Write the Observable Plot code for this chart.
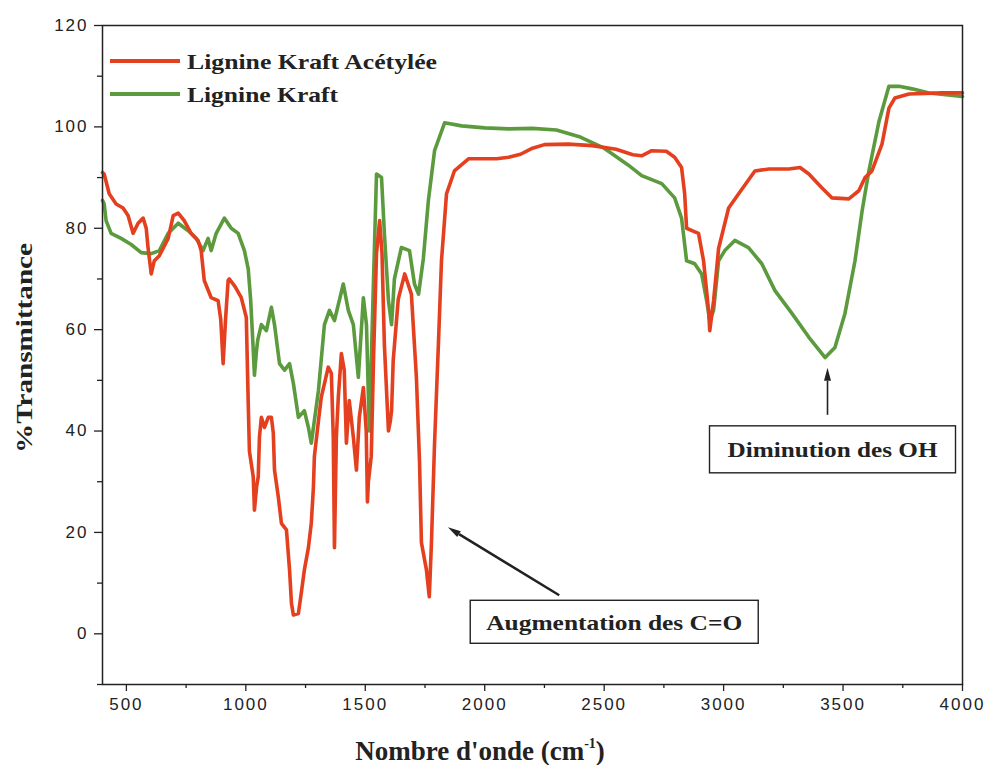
<!DOCTYPE html>
<html>
<head>
<meta charset="utf-8">
<script src="https://cdn.jsdelivr.net/npm/d3@7"></script>
<script src="https://cdn.jsdelivr.net/npm/@observablehq/plot@0.6"></script>
<style>
  html, body { margin: 0; padding: 0; background: #fff; }
  #chart svg text { letter-spacing: 2px; }
</style>
</head>
<body>
<div id="chart"></div>
<script>
// ---- Data: Lignine Kraft Acétylée (red) ----
const acetWavenumber = [400,407,428,457,486,507,528,549,570,583,591,604,617,638,675,696,717,742,771,800,813,826,855,884,895,905,915,926,931,955,981,1002,1010,1015,1031,1036,1045,1052,1057,1065,1078,1094,1107,1115,1120,1136,1149,1170,1183,1191,1199,1220,1232,1245,1262,1274,1283,1287,1304,1316,1345,1358,1366,1371,1379,1387,1400,1412,1421,1433,1450,1463,1475,1492,1504,1509,1513,1525,1535,1547,1560,1570,1580,1597,1605,1610,1617,1638,1665,1693,1714,1727,1735,1756,1768,1777,1790,1806,1819,1840,1873,1932,1987,2050,2100,2150,2200,2250,2350,2450,2550,2620,2657,2699,2760,2795,2824,2837,2845,2870,2895,2916,2937,2942,2958,2979,3021,3063,3131,3190,3273,3320,3357,3411,3453,3524,3566,3592,3621,3663,3692,3717,3776,3914,4000];
const acetTransmittance = [91,90.7,86.8,84.8,84,82.5,79,81,82,80,76,71,73.6,74.6,78,82.5,83,81.5,79,77.6,75.6,69.7,66.3,65.7,62,53.3,62,69.7,70,68.5,66.3,62.4,45.5,36,31,24.4,29,31,38.8,42.7,40.7,42.7,42.7,39.6,32.3,27,21.8,20.5,12.6,6,3.7,4,8,12.6,17,21.8,29,35,42,46.7,52.6,51.4,38.8,17,38.8,46.6,55.3,52,37.6,46,38.8,32.3,42.7,48.6,40,26,30,35,55,75,81.5,75,57,40,42,44,54,66,71,67,50.6,34,18,12.6,7.3,18,37.6,57,73.6,86.8,91.3,93.7,93.7,93.7,94,94.6,95.8,96.5,96.6,96.3,95.6,94.5,94.3,95.3,95.2,94,92,86.8,80,79.5,79,73.6,63.8,59.8,65.7,76,84,86.8,91.3,91.7,91.7,92,90.7,88,86,85.8,87.4,90,91.3,96.6,103.7,105.7,106.5,106.7,106.7];

// ---- Data: Lignine Kraft (green) ----
const kraftWavenumber = [400,407,415,436,478,520,562,604,638,675,717,759,792,821,842,855,876,910,939,968,994,1010,1020,1030,1036,1045,1050,1065,1086,1107,1120,1141,1162,1183,1199,1220,1245,1262,1274,1304,1329,1350,1371,1408,1429,1450,1471,1492,1505,1517,1534,1547,1568,1580,1597,1610,1622,1651,1685,1706,1723,1743,1764,1790,1832,1903,2000,2100,2200,2300,2400,2500,2600,2657,2741,2795,2824,2845,2879,2908,2929,2942,2958,2979,3005,3047,3104,3160,3215,3286,3357,3425,3466,3508,3550,3580,3608,3650,3692,3734,3789,3860,4000];
const kraftTransmittance = [85.5,84.8,81.5,79,78,76.8,75.2,75,75.6,79,81,79.5,78,75.6,78,75.6,79,82,80,79,75.6,72,66,57,51,56,58,61,59.8,64.4,61,53.3,52,53.3,49.4,42.7,44,40.7,37.6,48,61,63.8,61.8,69,63.8,61,50.6,66.3,61,40,69,90.7,90,79,65.7,61,70,76.2,75.6,69,67,74,85.4,95.3,100.8,100.2,99.8,99.6,99.7,99.4,98,95.8,92.5,90.4,88.8,86,82,73.6,73,71,65.7,61.8,63.8,73.6,75.6,77.6,76.2,73,67.7,63.2,58.5,54.5,56.5,63.2,73.6,83.5,91.3,101,108,108,107.5,106.7,106];

// ---- Series & axis labels ----
const seriesNames = ["Lignine Kraft Acétylée", "Lignine Kraft"];
const seriesColors = ["#e4401f", "#5c9a3e"];
const xTicks = [500,1000,1500,2000,2500,3000,3500,4000];
const xMinorTicks = [750,1250,1750,2250,2750,3250,3750];
const yTicks = [0,20,40,60,80,100,120];
const yMinorTicks = [-10,10,30,50,70,90,110];
const xTitle = "Nombre d'onde (cm";
const xTitleSup = "-1";
const yTitle = "%Transmittance";
const annotations = [
  {label: "Augmentation des C=O", headX: 1848, headY: 20.9, tailX: 2314, tailY: 7.5},
  {label: "Diminution des OH", headX: 3437, headY: 52.4, tailX: 3437, tailY: 43.1}
];

const acet = acetWavenumber.map((w, i) => ({w, t: acetTransmittance[i]}));
const kraft = kraftWavenumber.map((w, i) => ({w, t: kraftTransmittance[i]}));

const svg = Plot.plot({
  width: 985,
  height: 765,
  marginLeft: 102,
  marginRight: 23,
  marginTop: 25,
  marginBottom: 81,
  style: {fontFamily: "'Liberation Sans', Arial, sans-serif", fontSize: "17px", color: "#222", background: "#fff"},
  x: {domain: [400, 4000]},
  y: {domain: [-10, 120]},
  marks: [
    Plot.axisX({ticks: xTicks, tickSize: 7, tickPadding: 6, label: null, stroke: "#222", strokeWidth: 1.3, tickFormat: d => String(d)}),
    Plot.axisX({ticks: xMinorTicks, tickSize: 4, text: null, label: null, stroke: "#222", strokeWidth: 1.3}),
    Plot.axisY({ticks: yTicks, tickSize: 8, tickPadding: 6, label: null, stroke: "#222", strokeWidth: 1.3, tickFormat: d => String(d)}),
    Plot.axisY({ticks: yMinorTicks, tickSize: 5, text: null, label: null, stroke: "#222", strokeWidth: 1.3}),
    Plot.line(kraft, {x: "w", y: "t", stroke: seriesColors[1], strokeWidth: 3.6, strokeLinejoin: "round"}),
    Plot.line(acet, {x: "w", y: "t", stroke: seriesColors[0], strokeWidth: 3.6, strokeLinejoin: "round"}),
    Plot.frame({stroke: "#222", strokeWidth: 1.5})
  ]
});

document.getElementById("chart").appendChild(svg);

const xs = svg.scale("x"), ys = svg.scale("y");
const g = d3.select(svg).append("g")
  .attr("font-family", "'Liberation Serif', 'Times New Roman', serif")
  .attr("font-weight", "bold")
  .attr("fill", "#222");

// Legend
seriesNames.forEach((name, i) => {
  const ly = 61 + i * 33;
  g.append("line").attr("x1", 110).attr("x2", 180).attr("y1", ly).attr("y2", ly)
    .attr("stroke", seriesColors[i]).attr("stroke-width", 4);
  g.append("text").attr("x", 187).attr("y", ly + 8).attr("font-size", 21)
    .attr("text-anchor", "start")
    .style("letter-spacing", "0px")
    .attr("textLength", i === 0 ? 250 : 151).attr("lengthAdjust", "spacingAndGlyphs")
    .text(name);
});

// Axis titles
const xt = g.append("text").attr("x", 480).attr("y", 760).attr("text-anchor", "middle")
  .attr("font-size", 27).style("letter-spacing", "0px");
xt.append("tspan").text(xTitle);
xt.append("tspan").attr("dy", -12).attr("font-size", 14).text(xTitleSup);
xt.append("tspan").attr("dy", 12).text(")");

g.append("text").attr("transform", "translate(32,348) rotate(-90)").attr("text-anchor", "middle")
  .attr("font-size", 24).style("letter-spacing", "0px")
  .attr("textLength", 210).attr("lengthAdjust", "spacingAndGlyphs")
  .text(yTitle);

// Annotations
const boxes = [
  {w: 288, h: 43, dx: -89, dy: 5, tl: 256},
  {w: 246, h: 47, dx: -118, dy: 11, tl: 210}
];
annotations.forEach((a, i) => {
  const hx = xs.apply(a.headX), hy = ys.apply(a.headY);
  const tx = xs.apply(a.tailX), ty = ys.apply(a.tailY);
  const ang = Math.atan2(hy - ty, hx - tx);
  const L = 13, W = 3.5;
  const bx = hx - L * Math.cos(ang), by = hy - L * Math.sin(ang);
  g.append("line").attr("x1", tx).attr("y1", ty).attr("x2", bx).attr("y2", by)
    .attr("stroke", "#222").attr("stroke-width", i === 0 ? 2.5 : 1.6);
  g.append("path").attr("d", `M${hx},${hy} L${bx + W * Math.sin(ang)},${by - W * Math.cos(ang)} L${bx - W * Math.sin(ang)},${by + W * Math.cos(ang)} Z`)
    .attr("fill", "#222");
  const b = boxes[i];
  const x0 = tx + b.dx, y0 = ty + b.dy;
  g.append("rect").attr("x", x0).attr("y", y0).attr("width", b.w).attr("height", b.h)
    .attr("fill", "#fff").attr("stroke", "#222").attr("stroke-width", 1.4);
  g.append("text").attr("x", x0 + b.w / 2).attr("y", y0 + b.h / 2 + 8).attr("text-anchor", "middle")
    .attr("font-size", 21).style("letter-spacing", "0px")
    .attr("textLength", b.tl).attr("lengthAdjust", "spacingAndGlyphs")
    .text(a.label);
});
</script>
</body>
</html>
